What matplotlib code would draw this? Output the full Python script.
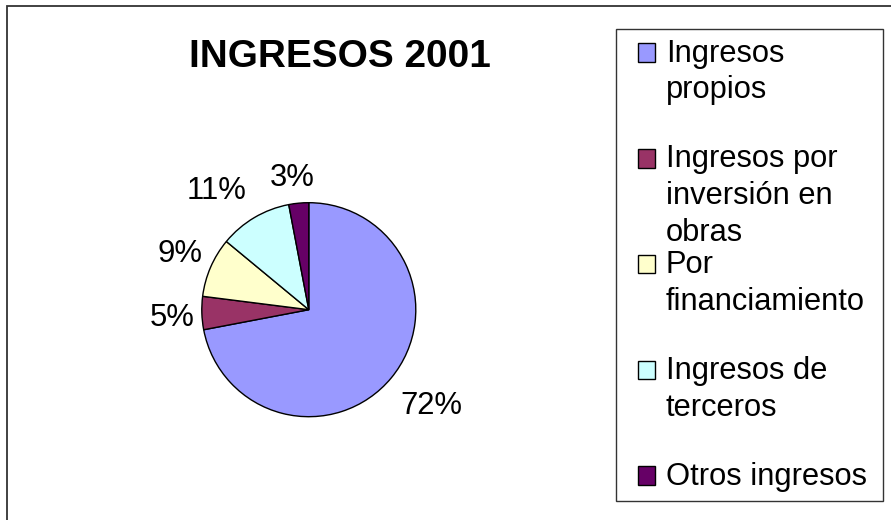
import numpy as np
import matplotlib
matplotlib.use("Agg")
import matplotlib.pyplot as plt
from matplotlib.patches import Rectangle

# ---------------- data ----------------
categories = ["Ingresos\npropios",
              "Ingresos por\ninversión en\nobras",
              "Por\nfinanciamiento",
              "Ingresos de\nterceros",
              "Otros ingresos"]
values = [72, 5, 9, 11, 3]
pct_labels = ["72%", "5%", "9%", "11%", "3%"]
title = "INGRESOS 2001"

# ---------------- styles / layout ----------------
colors = ["#9999FF", "#993366", "#FFFFCC", "#CCFFFF", "#660066"]
W, H = 891, 520
FONT = "Liberation Sans"
# per-label placement (relative radius, angle shift from wedge middle, deg)
label_r = [1.434, 1.279, 1.324, 1.433, 1.276]
label_shift = [2.4, 0.1, -1.2, 6.5, 1.5]

fig = plt.figure(figsize=(W / 100, H / 100), dpi=100)
fig.patch.set_facecolor("white")


def fx(x):
    return x / W


def fy(y):
    return 1 - y / H


# outer chart border (right/bottom edges fall outside the picture)
fig.patches.append(Rectangle((fx(7), fy(540)), fx(920) - fx(7), fy(6) - fy(540),
                             transform=fig.transFigure, fill=False,
                             edgecolor="#333333", linewidth=1.3, zorder=0))

# pie
cx, cy, r = 308.8, 309.7, 107.0
ax = fig.add_axes([fx(cx - r), fy(cy + r), 2 * r / W, 2 * r / H])
wedges, _ = ax.pie(values, colors=colors, startangle=90, counterclock=False,
                   wedgeprops=dict(edgecolor="black", linewidth=1.0))
ax.set_xlim(-1, 1)
ax.set_ylim(-1, 1)
ax.set_aspect("auto")
ax.axis("off")

for w, lab, rr, sh in zip(wedges, pct_labels, label_r, label_shift):
    mid = np.deg2rad((w.theta1 + w.theta2) / 2 + sh)
    ax.text(rr * np.cos(mid), rr * np.sin(mid), lab, ha="center",
            va="center_baseline", fontsize=22.3, family=FONT, clip_on=False)

# title
fig.text(fx(340), fy(66.7), title, ha="center", va="baseline",
         fontsize=27.9, fontweight="bold", family=FONT)

# legend box
lx0, ly0, lx1, ly1 = 615.7, 29, 883, 501
fig.patches.append(Rectangle((fx(lx0), fy(ly1)), fx(lx1) - fx(lx0), fy(ly0) - fy(ly1),
                             transform=fig.transFigure, fill=True, facecolor="white",
                             edgecolor="#333333", linewidth=1.0, zorder=1))

base0, step, line_gap = 61.7, 105.8, 36.6
for i, (cat, col) in enumerate(zip(categories, colors)):
    b = base0 + i * step
    fig.patches.append(Rectangle((fx(637.5), fy(b)), 17.5 / W, 18.5 / H,
                                 transform=fig.transFigure, facecolor=col,
                                 edgecolor="black", linewidth=1.0, zorder=2))
    for k, line in enumerate(cat.split("\n")):
        fig.text(fx(666), fy(b + k * line_gap), line, ha="left", va="baseline",
                 fontsize=22.2, family=FONT, zorder=3)

fig.savefig("out.png", dpi=100, facecolor="white")
